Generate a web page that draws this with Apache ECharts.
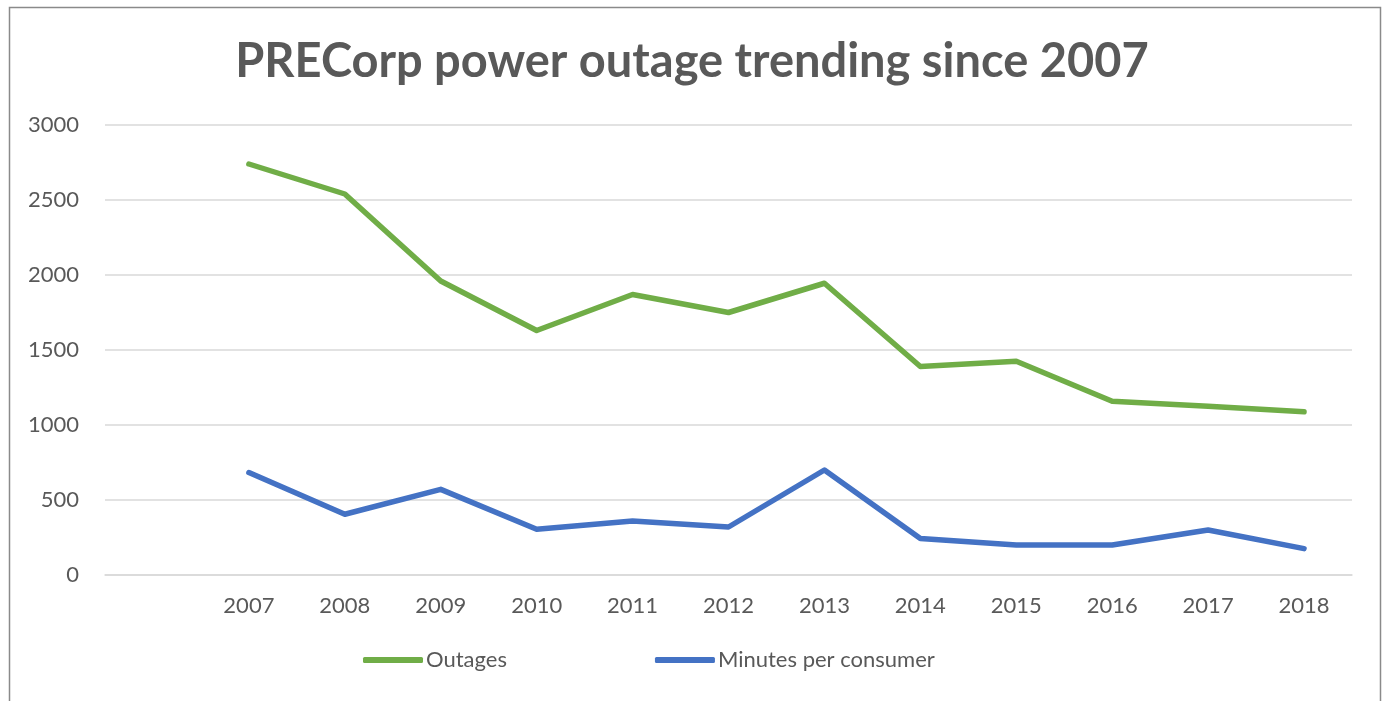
<!DOCTYPE html>
<html>
<head>
<meta charset="utf-8">
<script src="https://cdn.jsdelivr.net/npm/echarts@6/dist/echarts.min.js"></script>
<style>
html,body{margin:0;padding:0;background:#fff;}
#c{width:1384px;height:701px;}
</style>
</head>
<body>
<div id="c"></div>
<script>
const titleText = 'PRECorp power outage trending since 2007';
const years = ['2007','2008','2009','2010','2011','2012','2013','2014','2015','2016','2017','2018'];
const outages = [2740, 2540, 1960, 1630, 1870, 1750, 1945, 1390, 1425, 1158, 1125, 1088];
const minutesPerConsumer = [683, 405, 571, 305, 360, 320, 700, 243, 200, 200, 300, 176];
const yTicks = [0, 500, 1000, 1500, 2000, 2500, 3000];

// leading empty category slot as in the original chart
const categories = [''].concat(years);
const font = 'Lato, "Open Sans", sans-serif';

const chart = echarts.init(document.getElementById('c'), null, {renderer: 'canvas'});
chart.setOption({
  animation: false,
  backgroundColor: '#ffffff',
  title: {
    text: titleText,
    left: 'center',
    top: 33,
    textStyle: {fontFamily: font, fontWeight: 'bold', fontSize: 47, color: '#595959'}
  },
  graphic: [{
    type: 'rect',
    shape: {x: 9.5, y: 7.5, width: 1371, height: 720},
    style: {fill: 'none', stroke: '#8a8a8a', lineWidth: 1.5},
    silent: true
  }],
  grid: {left: 105, right: 32, top: 125, bottom: 126},
  xAxis: {
    type: 'category',
    data: categories,
    boundaryGap: true,
    axisLine: {show: true, lineStyle: {color: '#d9d9d9', width: 1.5}},
    axisTick: {show: false},
    axisLabel: {fontFamily: font, fontSize: 22, color: '#595959', margin: 20}
  },
  yAxis: {
    type: 'value',
    min: yTicks[0],
    max: yTicks[yTicks.length - 1],
    interval: 500,
    axisLine: {show: false},
    axisTick: {show: false},
    splitLine: {lineStyle: {color: '#d9d9d9', width: 1.5}},
    axisLabel: {fontFamily: font, fontSize: 22, color: '#595959', margin: 26,
      formatter: function (v) { return String(v); }}
  },
  legend: {
    left: 358,
    top: 644,
    itemGap: 148,
    itemWidth: 60,
    itemHeight: 6,
    icon: 'roundRect',
    textStyle: {fontFamily: font, fontSize: 22, color: '#595959', padding: [0, 0, 0, -2]},
    data: ['Outages', 'Minutes per consumer']
  },
  series: [
    {
      name: 'Outages',
      type: 'line',
      data: [null].concat(outages),
      showSymbol: false,
      symbol: 'none',
      itemStyle: {color: '#70AD47'},
      lineStyle: {color: '#70AD47', width: 5.5, cap: 'round', join: 'round'}
    },
    {
      name: 'Minutes per consumer',
      type: 'line',
      data: [null].concat(minutesPerConsumer),
      showSymbol: false,
      symbol: 'none',
      itemStyle: {color: '#4472C4'},
      lineStyle: {color: '#4472C4', width: 5.5, cap: 'round', join: 'round'}
    }
  ]
});
</script>
</body>
</html>
